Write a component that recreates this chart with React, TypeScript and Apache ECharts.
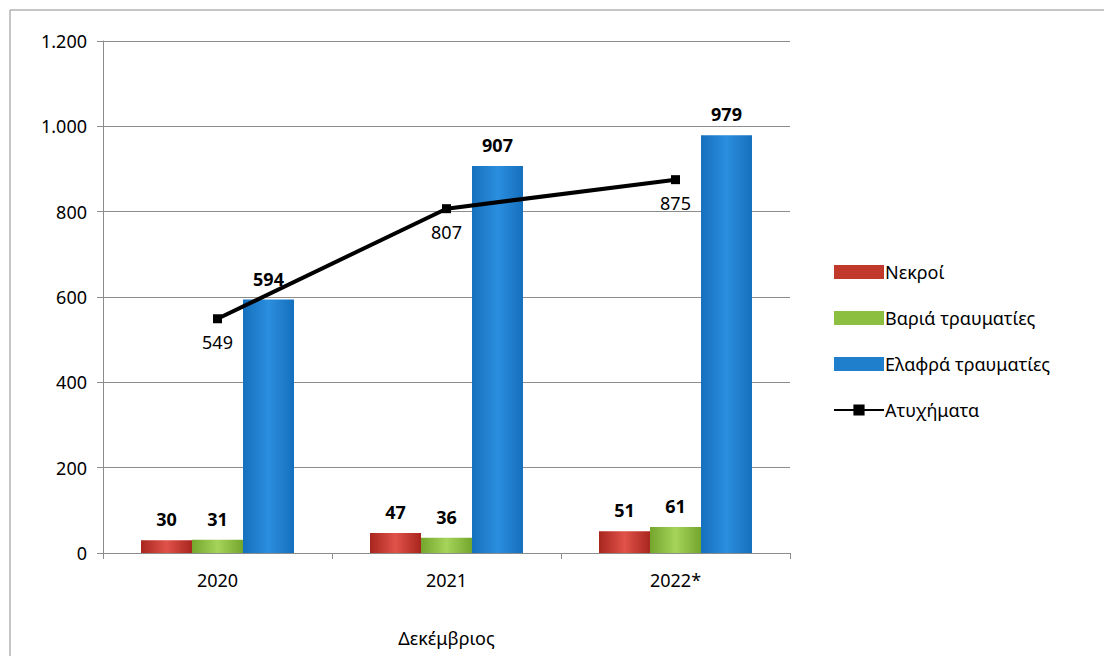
import React, { useEffect, useRef } from "react";
import * as echarts from "echarts";

const years = ["2020", "2021", "2022*"];
const deaths = [30, 47, 51];
const severe = [31, 36, 61];
const light = [594, 907, 979];
const accidents = [549, 807, 875];
const seriesNames = ["Νεκροί", "Βαριά τραυματίες", "Ελαφρά τραυματίες", "Ατυχήματα"];

const grad = (a: string, b: string) =>
  new echarts.graphic.LinearGradient(0, 0, 1, 0, [
    { offset: 0, color: a },
    { offset: 0.5, color: b },
    { offset: 1, color: a },
  ]);

const font = "'Noto Sans', 'DejaVu Sans', sans-serif";

const App = () => {
  const chartRef = useRef(null);

  useEffect(() => {
    const chart = echarts.init(chartRef.current, null, { renderer: "svg" });
    const barLabel = {
      show: true,
      position: "top",
      distance: 12,
      fontWeight: "bold",
      fontSize: 18,
      color: "#000",
      fontFamily: font,
    };
    const option = {
      animation: false,
      textStyle: { fontFamily: font },
      graphic: [
        {
          type: "rect",
          shape: { x: 10, y: 10, width: 1100, height: 660 },
          style: { fill: "none", stroke: "#8c8c8c", lineWidth: 1 },
        },
      ],
      grid: { left: 103, right: 314, top: 41, bottom: 103 },
      legend: {
        orient: "vertical",
        left: 828,
        top: 258,
        itemGap: 28,
        itemWidth: 50,
        itemHeight: 14,
        textStyle: { fontSize: 18, color: "#000", fontFamily: font, padding: [0, 0, 0, -4] },
        data: [
          { name: seriesNames[0], icon: "rect", itemStyle: { color: "#c0392b" } },
          { name: seriesNames[1], icon: "rect", itemStyle: { color: "#8cbf3f" } },
          { name: seriesNames[2], icon: "rect", itemStyle: { color: "#1f7fcc" } },
          { name: seriesNames[3] },
        ],
      },
      xAxis: {
        type: "category",
        data: years,
        name: "Δεκέμβριος",
        nameLocation: "middle",
        nameGap: 76,
        nameTextStyle: { fontSize: 18, color: "#000" },
        axisLine: { lineStyle: { color: "#8c8c8c" } },
        axisTick: { show: true, length: 6, lineStyle: { color: "#8c8c8c" } },
        axisLabel: { fontSize: 18, color: "#000", margin: 18 },
      },
      yAxis: {
        type: "value",
        min: 0,
        max: 1200,
        interval: 200,
        axisLine: { show: true, lineStyle: { color: "#8c8c8c" } },
        axisTick: { show: true, length: 6, lineStyle: { color: "#8c8c8c" } },
        splitLine: { lineStyle: { color: "#8c8c8c" } },
        axisLabel: {
          fontSize: 18,
          color: "#000",
          margin: 16,
          formatter: (v: number) => v.toLocaleString("de-DE"),
        },
      },
      series: [
        {
          name: seriesNames[0],
          type: "bar",
          data: deaths,
          barWidth: 51,
          barGap: "0%",
          itemStyle: { color: grad("#a8261e", "#e0524a") },
          label: barLabel,
        },
        {
          name: seriesNames[1],
          type: "bar",
          data: severe,
          barWidth: 51,
          barGap: "0%",
          itemStyle: { color: grad("#74a52c", "#a6d45a") },
          label: barLabel,
        },
        {
          name: seriesNames[2],
          type: "bar",
          data: light,
          barWidth: 51,
          barGap: "0%",
          itemStyle: { color: grad("#1570bd", "#2b8ede") },
          label: barLabel,
        },
        {
          name: seriesNames[3],
          type: "line",
          data: accidents,
          symbol: "rect",
          symbolSize: 9,
          itemStyle: { color: "#000" },
          lineStyle: { color: "#000", width: 4 },
          label: {
            show: true,
            position: "bottom",
            distance: 10,
            fontSize: 18,
            color: "#000",
          },
          z: 5,
        },
      ],
    };
    chart.setOption(option);
    return () => {
      chart.dispose();
    };
  }, []);

  return (
    <div
      ref={chartRef}
      style={{ position: "fixed", left: 0, top: 0, width: "1104px", height: "656px", background: "#fff" }}
    />
  );
};

export default App;
